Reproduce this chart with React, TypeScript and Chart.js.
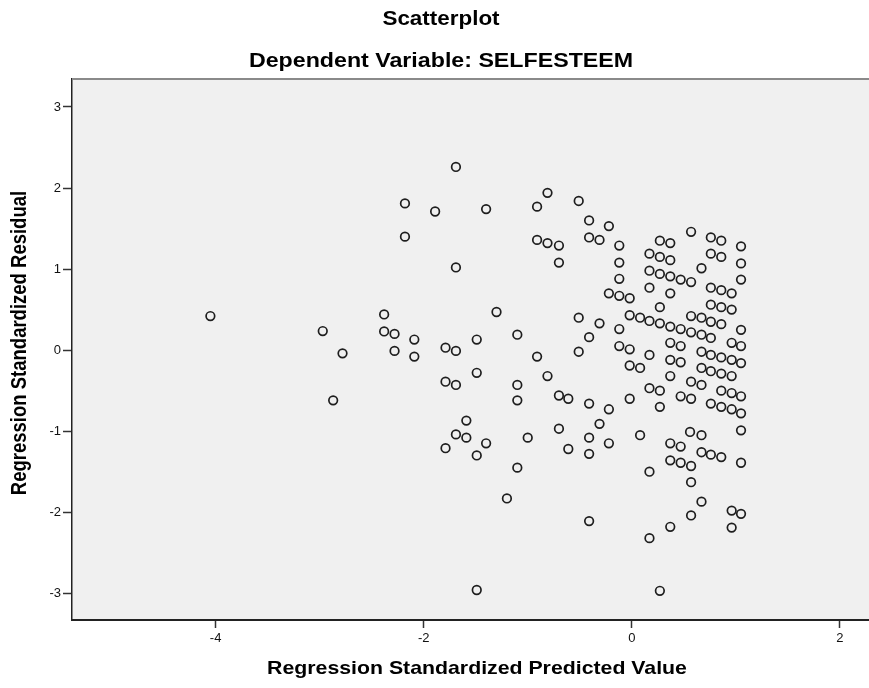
import React, { useEffect, useRef } from "react";
import { Chart, registerables } from "chart.js";

Chart.register(...registerables);

// Regression Standardized Predicted Value (x) paired with Regression Standardized Residual (y)
const predicted = [
  -4.05, -2.97, -2.78, -2.87, -2.38, -2.38, -2.28, -2.28, -2.09, -2.09, -2.18, -2.18,
  -1.69, -1.89, -1.40, -1.69, -0.81, -0.91, -0.51, -0.91, -0.81, -0.70, -0.70, -0.41,
  -0.22, -0.41, -0.31, -0.12, -0.12, -0.12, -0.22, -0.12, -0.02, -1.30, -0.51, -0.31,
  -0.02, -0.12, -0.41, -0.51, -0.12, -0.02, -0.02, -1.79, -1.69, -1.49, -1.10, -1.79,
  -1.69, -1.49, -1.10, -1.10, -0.91, -0.81, -0.70, -0.61, -0.41, -0.22, -0.02, -1.59,
  -1.69, -1.59, -1.79, -1.40, -1.49, -1.00, -0.70, -0.61, -0.41, -0.31, -0.22, -0.41,
  -1.10, -1.20, -0.41, -1.49,
  0.57, 0.76, 0.86, 1.05, 0.27, 0.37, 0.17, 0.27, 0.37, 0.76, 0.86, 0.67,
  0.17, 0.27, 0.37, 0.47, 0.57, 0.17, 0.37, 0.76, 0.86, 0.96, 0.76, 0.86,
  0.96, 0.27, 0.08, 0.17, 0.27, 0.37, 0.47, 0.57, 0.67, 0.76, 0.57, 0.67,
  0.76, 0.86, 0.17, 0.37, 0.47, 0.08, 0.37, 0.47, 0.37, 0.67, 0.76, 0.86,
  0.96, 0.96, 0.67, 0.76, 0.86, 0.96, 0.57, 0.67, 0.17, 0.27, 0.47, 0.57,
  0.27, 0.76, 0.86, 0.96, 0.86, 0.96, 1.05, 1.05, 1.05, 1.05, 1.05, 1.05,
  1.05,
  0.08, 0.56, 0.67, 0.37, 0.47, 0.67, 0.76, 0.86, 0.37, 0.47, 0.57, 0.17,
  0.57, 0.67, 0.57, 0.37, 0.17, 0.27, 1.05, 1.05, 0.96, 1.05, 0.96,
];

const residual = [
  0.42, 0.235, -0.04, -0.62, 0.44, 0.23, 0.20, -0.01, 0.13, -0.08, 1.81, 1.40,
  2.26, 1.71, 1.74, 1.02, 1.94, 1.77, 1.84, 1.36, 1.32, 1.29, 1.08, 1.60,
  1.53, 1.39, 1.36, 1.29, 1.08, 0.88, 0.70, 0.67, 0.64, 0.47, 0.40, 0.33,
  0.43, 0.26, 0.16, -0.02, 0.05, 0.01, -0.19, 0.03, -0.01, 0.13, 0.19, -0.39,
  -0.43, -0.28, -0.43, -0.62, -0.08, -0.32, -0.56, -0.60, -0.66, -0.73, -0.60, -0.87,
  -1.04, -1.08, -1.21, -1.15, -1.30, -1.08, -0.97, -1.22, -1.08, -0.91, -1.15, -1.28,
  -1.45, -1.83, -2.11, -2.96,
  1.46, 1.39, 1.35, 1.28, 1.35, 1.32, 1.19, 1.15, 1.11, 1.19, 1.15, 1.01,
  0.98, 0.94, 0.91, 0.87, 0.84, 0.77, 0.70, 0.77, 0.74, 0.70, 0.56, 0.53,
  0.50, 0.53, 0.40, 0.36, 0.33, 0.29, 0.26, 0.22, 0.19, 0.15, 0.42, 0.40,
  0.35, 0.32, -0.06, 0.09, 0.05, -0.22, -0.12, -0.15, -0.32, -0.02, -0.06, -0.09,
  0.09, -0.12, -0.22, -0.26, -0.29, -0.32, -0.39, -0.43, -0.47, -0.50, -0.57, -0.60,
  -0.70, -0.66, -0.70, -0.73, -0.50, -0.53, 1.07, 0.87, 0.25, 0.05, -0.16, -0.57,
  -0.78,
  -1.05, -1.01, -1.05, -1.15, -1.19, -1.26, -1.29, -1.32, -1.36, -1.39, -1.43, -1.50,
  -1.63, -1.87, -2.04, -2.18, -2.32, -2.97, -0.99, -1.39, -1.98, -2.02, -2.19,
];

const xTickValues = [-4, -2, 0, 2];
const yTickValues = [-3, -2, -1, 0, 1, 2, 3];
const xRange = [-5.38, 2.28];
const yRange = [-3.33, 3.345];

const chartTitle = "Scatterplot";
const chartSubtitle = "Dependent Variable: SELFESTEEM";
const xTitle = "Regression Standardized Predicted Value";
const yTitle = "Regression Standardized Residual";

const FONT = "'Liberation Sans', Arial, Helvetica, sans-serif";

function drawText(
  ctx: CanvasRenderingContext2D,
  text: string,
  x: number,
  y: number,
  size: number,
  sx: number,
  rotate = false
) {
  ctx.save();
  ctx.translate(x, y);
  ctx.scale(sx, 1);
  if (rotate) ctx.rotate(-Math.PI / 2);
  ctx.font = `bold ${size}px ${FONT}`;
  ctx.fillStyle = "#000";
  ctx.textAlign = "center";
  ctx.textBaseline = "middle";
  ctx.fillText(text, 0, 0);
  ctx.restore();
}

const spssPlugin = {
  id: "spssFrame",
  beforeDraw(chart: any) {
    const { ctx, chartArea } = chart;
    ctx.save();
    ctx.fillStyle = "#ffffff";
    ctx.fillRect(0, 0, chart.width, chart.height);
    ctx.fillStyle = "#f0f0f0";
    ctx.fillRect(
      chartArea.left,
      chartArea.top,
      chartArea.right - chartArea.left,
      chartArea.bottom - chartArea.top
    );
    ctx.restore();
  },
  afterDraw(chart: any) {
    const { ctx, chartArea } = chart;
    ctx.save();
    ctx.strokeStyle = "#8a8a8a";
    ctx.lineWidth = 2;
    ctx.beginPath();
    ctx.moveTo(chartArea.left, chartArea.top);
    ctx.lineTo(chartArea.right, chartArea.top);
    ctx.stroke();
    ctx.restore();

    drawText(ctx, chartTitle, 441, 20, 19.5, 1.15);
    drawText(ctx, chartSubtitle, 441, 61, 20, 1.16);
    drawText(ctx, xTitle, 477, 669, 19, 1.12);
    drawText(ctx, yTitle, 20, 343, 18.5, 1.15, true);
  },
};

export default function App() {
  const canvasRef = useRef<HTMLCanvasElement | null>(null);

  useEffect(() => {
    const canvas = canvasRef.current;
    if (!canvas) return;
    const points = predicted.map((x, i) => ({ x, y: residual[i] }));
    const chart = new Chart(canvas, {
      type: "scatter",
      data: {
        datasets: [
          {
            data: points,
            pointStyle: "circle",
            pointRadius: 4.3,
            pointBorderWidth: 1.7,
            pointBorderColor: "#1e1e1e",
            pointBackgroundColor: "rgba(0,0,0,0)",
            showLine: false,
          },
        ],
      },
      plugins: [spssPlugin],
      options: {
        animation: false,
        responsive: false,
        devicePixelRatio: 1,
        events: [],
        layout: { autoPadding: false, padding: { top: 79, left: 0, right: 0, bottom: 0 } },
        plugins: {
          legend: { display: false },
          title: { display: false },
          tooltip: { enabled: false },
        },
        scales: {
          x: {
            type: "linear",
            position: "bottom",
            min: xRange[0],
            max: xRange[1],
            afterFit: (scale: any) => {
              scale.height = 68;
            },
            afterBuildTicks: (scale: any) => {
              scale.ticks = xTickValues.map((v) => ({ value: v }));
            },
            ticks: {
              color: "#111",
              font: { family: FONT, size: 13 },
              padding: 3,
              maxRotation: 0,
              autoSkip: false,
              callback: (v: any) => String(v),
            },
            grid: {
              drawOnChartArea: false,
              drawTicks: true,
              tickLength: 8,
              tickWidth: 1.5,
              tickColor: "#333",
            },
            border: { display: true, color: "#222", width: 2 },
          },
          y: {
            type: "linear",
            position: "left",
            min: yRange[0],
            max: yRange[1],
            afterFit: (scale: any) => {
              scale.width = 72;
            },
            afterBuildTicks: (scale: any) => {
              scale.ticks = yTickValues.map((v) => ({ value: v }));
            },
            ticks: {
              color: "#111",
              font: { family: FONT, size: 13 },
              padding: 2,
              autoSkip: false,
              callback: (v: any) => String(v),
            },
            grid: {
              drawOnChartArea: false,
              drawTicks: true,
              tickLength: 9,
              tickWidth: 1.5,
              tickColor: "#333",
            },
            border: { display: true, color: "#222", width: 1.5 },
          },
        },
      },
    });
    return () => chart.destroy();
  }, []);

  return (
    <div style={{ position: "absolute", left: 0, top: 0, width: 869, height: 688, background: "#fff" }}>
      <canvas ref={canvasRef} width={869} height={688} style={{ display: "block", width: 869, height: 688 }} />
    </div>
  );
}
